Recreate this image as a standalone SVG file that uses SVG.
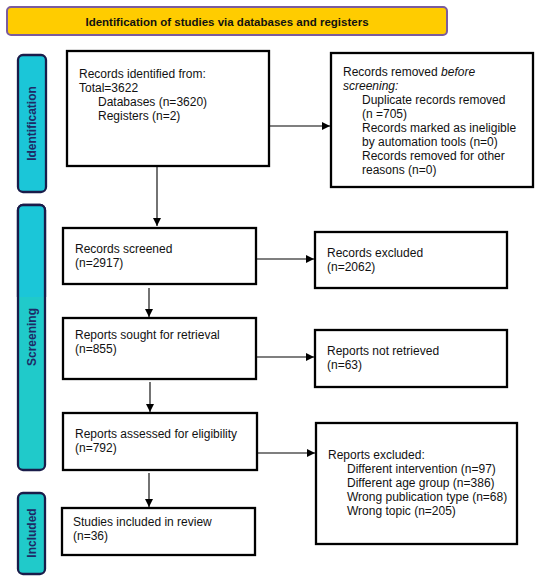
<svg xmlns="http://www.w3.org/2000/svg" width="550" height="581" viewBox="0 0 550 581">
<defs>
<marker id="ah" viewBox="0 0 10 10" refX="10" refY="5" markerWidth="9" markerHeight="8" markerUnits="userSpaceOnUse" orient="auto">
<path d="M0,0 L10,5 L0,10 z" fill="#000"/>
</marker>
<clipPath id="scrTop"><rect x="0" y="0" width="100" height="297"/></clipPath>
<style>
.box{fill:#fff;stroke:#000;stroke-width:2.3}
.side{fill:#1BC6D8;stroke:#1A1C4A;stroke-width:2.3}
.side2{fill:#20CACA;stroke:#1A1C4A;stroke-width:2.3}
.t{font-family:"Liberation Sans",Arial,sans-serif;font-size:12px;fill:#111}
.lab{font-family:"Liberation Sans",Arial,sans-serif;font-size:12px;font-weight:bold;fill:#1E2A66}
.c{stroke:#000;stroke-width:1.1;fill:none;marker-end:url(#ah)}
</style>
</defs>
<rect width="550" height="581" fill="#fff"/>
<g id="title">
<rect x="7" y="7" width="440" height="28" rx="4" fill="#FFCC00" stroke="#7A5C9E" stroke-width="2"/>
<text x="227" y="26" text-anchor="middle" font-family="Liberation Sans,Arial,sans-serif" font-size="11.5" font-weight="bold" fill="#111">Identification of studies via databases and registers</text>
</g>
<g id="side-identification">
<rect class="side" x="18" y="55" width="28" height="137" rx="5"/>
<text class="lab" transform="translate(36,123.5) rotate(-90)" text-anchor="middle">Identification</text>
</g>
<g id="side-screening">
<rect class="side2" x="18" y="205" width="27" height="265" rx="5"/>
<rect class="side" x="18" y="205" width="27" height="265" rx="5" clip-path="url(#scrTop)"/>
<text class="lab" transform="translate(35.5,337) rotate(-90)" text-anchor="middle">Screening</text>
</g>
<g id="side-included">
<rect class="side2" x="18" y="493" width="27" height="81" rx="5"/>
<text class="lab" transform="translate(35.5,533) rotate(-90)" text-anchor="middle">Included</text>
</g>
<g id="n-identified">
<rect class="box" x="67" y="51" width="202" height="115"/>
<text class="t" x="79" y="78">Records identified from:</text>
<text class="t" x="79" y="92">Total=3622</text>
<text class="t" x="98" y="106">Databases (n=3620)</text>
<text class="t" x="98" y="120">Registers (n=2)</text>
</g>
<g id="n-removed">
<rect class="box" x="331" y="53" width="202" height="134"/>
<text class="t" x="343" y="76">Records removed <tspan font-style="italic">before</tspan></text>
<text class="t" x="343" y="90" font-style="italic">screening:</text>
<text class="t" x="362" y="104">Duplicate records removed</text>
<text class="t" x="362" y="118">(n =705)</text>
<text class="t" x="362" y="132">Records marked as ineligible</text>
<text class="t" x="362" y="146">by automation tools (n=0)</text>
<text class="t" x="362" y="160">Records removed for other</text>
<text class="t" x="362" y="174">reasons (n=0)</text>
</g>
<g id="n-screened">
<rect class="box" x="63" y="228" width="193" height="56"/>
<text class="t" x="75" y="253">Records screened</text>
<text class="t" x="75" y="267">(n=2917)</text>
</g>
<g id="n-excluded">
<rect class="box" x="315" y="232" width="192" height="56"/>
<text class="t" x="327" y="257">Records excluded</text>
<text class="t" x="327" y="271">(n=2062)</text>
</g>
<g id="n-sought">
<rect class="box" x="63" y="318" width="193" height="61"/>
<text class="t" x="75" y="339">Reports sought for retrieval</text>
<text class="t" x="75" y="353">(n=855)</text>
</g>
<g id="n-notretrieved">
<rect class="box" x="315" y="330" width="192" height="57"/>
<text class="t" x="327" y="355">Reports not retrieved</text>
<text class="t" x="327" y="369">(n=63)</text>
</g>
<g id="n-assessed">
<rect class="box" x="63" y="413" width="194" height="57"/>
<text class="t" x="75" y="438">Reports assessed for eligibility</text>
<text class="t" x="75" y="452">(n=792)</text>
</g>
<g id="n-reportsexcluded">
<rect class="box" x="316" y="423" width="201" height="121"/>
<text class="t" x="328" y="459">Reports excluded:</text>
<text class="t" x="347" y="473">Different intervention (n=97)</text>
<text class="t" x="347" y="487">Different age group (n=386)</text>
<text class="t" x="347" y="501">Wrong publication type (n=68)</text>
<text class="t" x="347" y="515">Wrong topic (n=205)</text>
</g>
<g id="n-included">
<rect class="box" x="62" y="508" width="193" height="47"/>
<text class="t" x="73" y="526">Studies included in review</text>
<text class="t" x="73" y="540">(n=36)</text>
</g>
<g id="connectors">
<line class="c" x1="269" y1="126" x2="330" y2="126"/>
<line class="c" x1="157" y1="166" x2="157" y2="226"/>
<line class="c" x1="256" y1="259" x2="314" y2="259"/>
<line class="c" x1="149" y1="288" x2="149" y2="317"/>
<line class="c" x1="256" y1="357" x2="314" y2="357"/>
<line class="c" x1="150" y1="382" x2="150" y2="412"/>
<line class="c" x1="257" y1="453" x2="315" y2="453"/>
<line class="c" x1="149" y1="473" x2="149" y2="507"/>
</g>
</svg>
